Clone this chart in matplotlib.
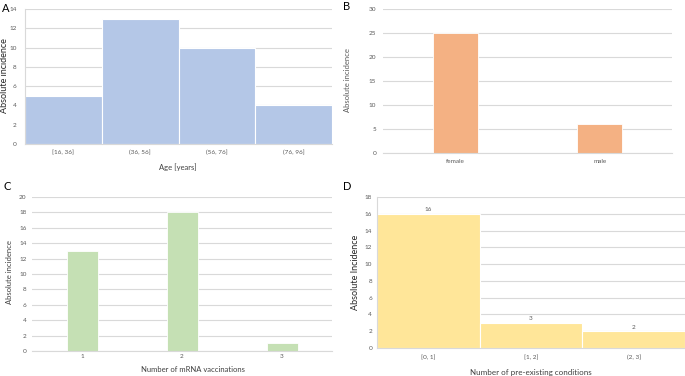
import numpy as np
import matplotlib.pyplot as plt

plt.rcParams['font.family'] = ['Lato', 'DejaVu Sans']

W, H = 685, 376

# A: age histogram
age_bins = ["[16, 36]", "(36, 56]", "(56, 76]", "(76, 96]"]
age_counts = [5, 13, 10, 4]

# B: sex
sex_cats = ["female", "male"]
sex_counts = [25, 6]

# C: number of mRNA vaccinations
vacc_cats = ["1", "2", "3"]
vacc_counts = [13, 18, 1]

# D: pre-existing conditions
cond_bins = ["[0, 1]", "[1, 2]", "(2, 3]"]
cond_counts = [16, 3, 2]

GRID = "#d9d9d9"
TICK = "#595959"


def rect(x0, y0, x1, y1):
    return [x0 / W, 1 - y1 / H, (x1 - x0) / W, (y1 - y0) / H]


def ftext(x, y, s, **kw):
    fig.text(x / W, 1 - y / H, s, **kw)


def style(ax, ymax, ystep, xpad, ypad, left_spine=False):
    ax.set_ylim(0, ymax)
    ax.set_yticks(np.arange(0, ymax + 0.1, ystep))
    ax.grid(True, axis="y", color=GRID, lw=0.8)
    ax.set_axisbelow(True)
    for s in ["top", "right"]:
        ax.spines[s].set_visible(False)
    ax.spines["left"].set_visible(left_spine)
    ax.spines["left"].set_color(GRID)
    ax.spines["bottom"].set_color(GRID)
    ax.tick_params(axis="both", length=0, labelsize=4.6, colors=TICK)
    ax.tick_params(axis="x", pad=xpad)
    ax.tick_params(axis="y", pad=ypad)


fig = plt.figure(figsize=(W / 100, H / 100), dpi=100)

# Panel A
ax = fig.add_axes(rect(25, 9, 332, 144))
pos = np.arange(len(age_counts))
ax.bar(pos, age_counts, width=1, align="edge", color="#b4c7e7",
       edgecolor="white", lw=0.8)
ax.set_xlim(0, len(age_counts))
ax.set_xticks(pos + 0.5)
ax.set_xticklabels(age_bins)
style(ax, 14, 2, 4, 6, left_spine=True)
ftext(178, 167, "Age [years]", ha="center", va="center", fontsize=5.5, color="#404040")
ftext(4.5, 76, "Absolute incidence", ha="center", va="center", rotation=90,
      fontsize=6.5, color="#262626")
ftext(2, 8, "A", ha="left", va="center", fontsize=8)

# Panel B
ax = fig.add_axes(rect(383, 9, 672, 153))
pos = np.arange(len(sex_counts))
ax.bar(pos, sex_counts, width=0.31, color="#f4b183", edgecolor="white", lw=0.6)
ax.set_xlim(-0.5, len(sex_counts) - 0.5)
ax.set_xticks(pos)
ax.set_xticklabels(sex_cats)
style(ax, 30, 5, 4.5, 5)
ftext(348, 80, "Absolute incidence", ha="center", va="center", rotation=90,
      fontsize=5.5, color="#595959")
ftext(343, 6, "B", ha="left", va="center", fontsize=8)

# Panel C
ax = fig.add_axes(rect(32, 197, 332, 351))
pos = np.arange(len(vacc_counts))
ax.bar(pos, vacc_counts, width=0.31, color="#c5e0b4", edgecolor="white", lw=0.6)
ax.set_xlim(-0.5, len(vacc_counts) - 0.5)
ax.set_xticks(pos)
ax.set_xticklabels(vacc_cats)
style(ax, 20, 2, 2.5, 4)
ftext(193, 369, "Number of mRNA vaccinations", ha="center", va="center",
      fontsize=5.5, color="#404040")
ftext(10, 272, "Absolute incidence", ha="center", va="center", rotation=90,
      fontsize=5.5, color="#404040")
ftext(3, 186, "C", ha="left", va="center", fontsize=8)

# Panel D
ax = fig.add_axes(rect(377, 197, 685, 348))
pos = np.arange(len(cond_counts))
bars = ax.bar(pos, cond_counts, width=1, align="edge", color="#ffe699",
              edgecolor="white", lw=0.8)
ax.bar_label(bars, padding=1, fontsize=4.6, color=TICK)
ax.set_xlim(0, len(cond_counts))
ax.set_xticks(pos + 0.5)
ax.set_xticklabels(cond_bins)
style(ax, 18, 2, 5, 3.5, left_spine=True)
ftext(531, 372, "Number of pre-existing conditions", ha="center", va="center",
      fontsize=5.8, color="#404040")
ftext(356, 272, "Absolute Incidence", ha="center", va="center", rotation=90,
      fontsize=6.5, color="#262626")
ftext(343, 186, "D", ha="left", va="center", fontsize=8)

fig.savefig("out.png", dpi=100)
